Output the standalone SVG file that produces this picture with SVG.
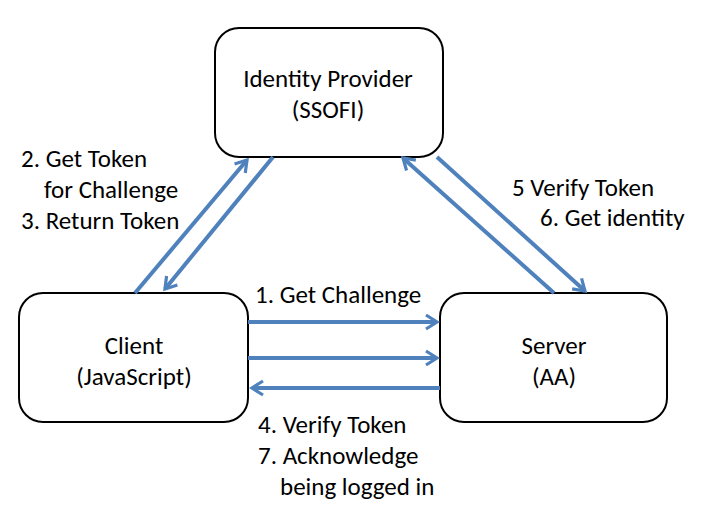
<svg xmlns="http://www.w3.org/2000/svg" width="714" height="516" viewBox="0 0 714 516">
<style>
.box{fill:#fff;stroke:#000;stroke-width:2}
.t{font-family:"Carlito","Liberation Sans",sans-serif;font-size:25px;fill:#000}
.c{text-anchor:middle}
.a{stroke:#4F81BD;stroke-width:4;fill:none;marker-end:url(#ah)}
</style>
<defs>
<marker id="ah" viewBox="0 0 10 10" refX="8" refY="5" markerWidth="5" markerHeight="5" orient="auto" markerUnits="strokeWidth">
<path d="M2.5,1.5 L8,5 L2.5,8.5" fill="none" stroke="#4F81BD" stroke-width="1.6"/>
</marker>
</defs>
<rect width="714" height="516" fill="#fff"/>
<g id="idp"><rect class="box" x="215" y="28" width="228" height="129" rx="24"/>
<text class="t c" x="328" y="87">Identity Provider</text>
<text class="t c" x="328" y="118">(SSOFI)</text></g>
<g id="client"><rect class="box" x="19" y="293" width="229" height="129" rx="24"/>
<text class="t c" x="134" y="354">Client</text>
<text class="t c" x="134" y="385">(JavaScript)</text></g>
<g id="server"><rect class="box" x="440" y="293" width="227" height="129" rx="24"/>
<text class="t c" x="554" y="354">Server</text>
<text class="t c" x="554" y="385">(AA)</text></g>
<g id="connectors">
<line class="a" x1="135" y1="293" x2="247" y2="160"/>
<line class="a" x1="273" y1="157" x2="165" y2="289"/>
<line class="a" x1="554" y1="293" x2="403" y2="158"/>
<line class="a" x1="437" y1="157" x2="585" y2="291"/>
<line class="a" x1="248" y1="322" x2="437" y2="322"/>
<line class="a" x1="248" y1="358" x2="437" y2="358"/>
<line class="a" x1="440" y1="388" x2="252" y2="388"/>
</g>
<g id="labels">
<text class="t" x="21" y="167">2. Get Token</text>
<text class="t" x="44" y="198">for Challenge</text>
<text class="t" x="21" y="229">3. Return Token</text>
<text class="t" x="512" y="196">5 Verify Token</text>
<text class="t" x="540" y="226">6. Get identity</text>
<text class="t" x="255" y="303">1. Get Challenge</text>
<text class="t" x="258" y="433">4. Verify Token</text>
<text class="t" x="258" y="464">7. Acknowledge</text>
<text class="t" x="280" y="495">being logged in</text>
</g>
</svg>
